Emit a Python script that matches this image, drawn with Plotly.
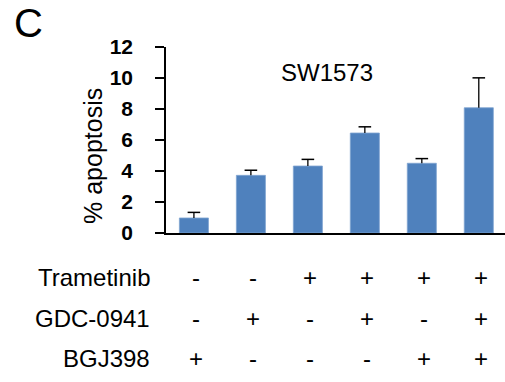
import plotly.graph_objects as go

# ---- data ----
conditions = [0, 1, 2, 3, 4, 5]
apoptosis = [0.97, 3.72, 4.32, 6.45, 4.50, 8.08]
errors = [0.36, 0.33, 0.43, 0.40, 0.30, 1.93]
row_labels = ["Trametinib", "GDC-0941", "BGJ398"]
trametinib = ["-", "-", "+", "+", "+", "+"]
gdc0941 = ["-", "+", "-", "+", "-", "+"]
bgj398 = ["+", "-", "-", "-", "+", "+"]
y_ticks = [0, 2, 4, 6, 8, 10, 12]
title_text = "SW1573"
panel_label = "C"
y_title = "% apoptosis"

FONT = "Liberation Sans, Arial, sans-serif"
W, H = 505, 382
ML, MR, MT, MB = 166, 0, 47, 149
plot_h = H - MT - MB
plot_w = W - ML - MR


def px_x(px):
    return (px - ML) / plot_w


def px_y(py):
    return (MT + plot_h - py) / plot_h


fig = go.Figure()
fig.add_trace(go.Bar(
    x=conditions, y=apoptosis, width=0.51,
    marker=dict(color="#4F81BD", line=dict(color="#7FA3D1", width=0.8)),
    showlegend=False, hoverinfo="skip",
))
# error stems (upper only)
sx, sy = [], []
for x, v, e in zip(conditions, apoptosis, errors):
    sx += [x, x, None]
    sy += [v, v + e, None]
fig.add_trace(go.Scatter(x=sx, y=sy, mode="lines", line=dict(color="black", width=1.3),
                         showlegend=False, hoverinfo="skip"))
fig.add_trace(go.Scatter(
    x=conditions, y=[v + e for v, e in zip(apoptosis, errors)], mode="markers",
    marker=dict(symbol="line-ew-open", size=9, color="black", line=dict(color="black", width=1.5)),
    showlegend=False, hoverinfo="skip"))

annotations = []
# title
annotations.append(dict(x=2.34, y=10.35, xref="x", yref="y", text=title_text, showarrow=False,
                        font=dict(family=FONT, size=24, color="black"), xanchor="center", yanchor="middle"))
# panel label
annotations.append(dict(x=px_x(28), y=px_y(23.5), xref="paper", yref="paper", text=panel_label,
                        showarrow=False, font=dict(family=FONT, size=40, color="black"),
                        xanchor="center", yanchor="middle"))
# y title
annotations.append(dict(x=px_x(93), y=px_y(156), xref="paper", yref="paper",
                        text=y_title, textangle=-90, showarrow=False,
                        font=dict(family=FONT, size=25, color="black"),
                        xanchor="center", yanchor="middle"))
# treatment table
row_py = [277, 318, 358]
for label, signs, py in zip(row_labels, [trametinib, gdc0941, bgj398], row_py):
    yp = px_y(py)
    annotations.append(dict(x=px_x(152), y=yp, xref="paper", yref="paper", text=label,
                            showarrow=False, font=dict(family=FONT, size=24, color="black"),
                            xanchor="right", yanchor="middle"))
    for x, s in zip(conditions, signs):
        annotations.append(dict(x=x, y=yp, xref="x", yref="paper", text=s, xshift=2,
                                showarrow=False, font=dict(family=FONT, size=24, color="black"),
                                xanchor="center", yanchor="middle"))

fig.update_layout(
    width=W, height=H,
    margin=dict(l=ML, r=MR, t=MT, b=MB, pad=0),
    plot_bgcolor="white", paper_bgcolor="white",
    annotations=annotations,
    xaxis=dict(range=[-0.49, 5.46], showticklabels=False, ticks="", showgrid=False, zeroline=False,
               showline=True, linecolor="black", linewidth=2),
    yaxis=dict(range=[0, 12], tickvals=y_ticks, ticks="outside", ticklen=9, tickwidth=1.5,
               tickcolor="black", showline=True, linecolor="black", linewidth=1.5,
               showgrid=False, zeroline=False, ticklabelstandoff=18,
               tickfont=dict(family=FONT, size=21, color="black", weight="bold")),
)
fig.write_html("out.html")
